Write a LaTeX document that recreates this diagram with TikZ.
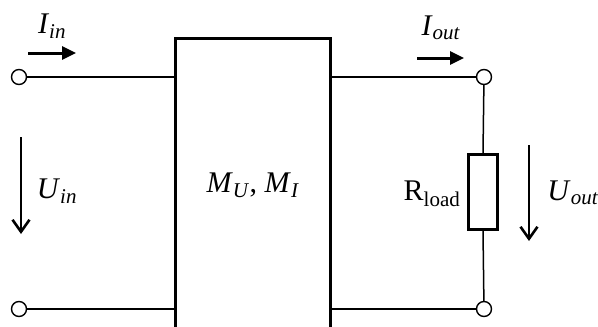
\documentclass[tikz,border=0pt]{standalone}
\usepackage{fontspec}
\setmainfont{Liberation Serif}
\usetikzlibrary{arrows.meta}
\tikzset{
  wire/.style={line width=1.5pt},
  term/.style={circle,draw,line width=1.4pt,minimum size=15pt,inner sep=0pt,fill=white},
  thickbox/.style={draw,line width=3pt},
  iarrow/.style={line width=3pt,-{Triangle[length=14pt,width=13pt]}},
  uarrow/.style={line width=2.6pt,-{Straight Barb[length=12pt,width=17pt,line width=2.6pt]}},
  lab/.style={font=\fontsize{30}{32}\selectfont,inner sep=0pt}
}
\newcommand{\vsub}[2]{\textit{#1}\textsubscript{\textit{#2}}}
\begin{document}
\begin{tikzpicture}[x=1pt,y=-1pt]
\useasboundingbox (0,0) rectangle (598,327);
\clip (0,0) rectangle (598,327);
% terminals
\node[term] (t1) at (19,77) {};
\node[term] (t2) at (19,309) {};
\node[term] (t3) at (484,77) {};
\node[term] (t4) at (484,309) {};
% two-port box
\coordinate (bxa) at (175,38);
\coordinate (bxb) at (330,335);
\draw[line width=3pt] (bxa) rectangle (bxb);
\coordinate (bl1) at (175,77);
\coordinate (bl2) at (175,309);
\coordinate (br1) at (330,77);
\coordinate (br2) at (330,309);
\draw[wire] (t1) -- (bl1);
\draw[wire] (t2) -- (bl2);
\draw[wire] (br1) -- (t3);
\draw[wire] (br2) -- (t4);
% load resistor
\node[thickbox,minimum width=29pt,minimum height=75pt,inner sep=0pt] (R) at (483,192) {};
\draw[wire] (t3) -- (R.north);
\draw[wire] (R.south) -- (t4);
% arrows
\coordinate (ia1) at (28,53); \coordinate (ia2) at (76,53);
\coordinate (oa1) at (417,58); \coordinate (oa2) at (464,58);
\coordinate (ua1) at (21,137); \coordinate (ua2) at (21,234);
\coordinate (va1) at (529,145); \coordinate (va2) at (529,241);
\draw[iarrow] (ia1) -- (ia2);
\draw[iarrow] (oa1) -- (oa2);
\draw[uarrow] (ua1) -- (ua2);
\draw[uarrow] (va1) -- (va2);
% labels
\node[lab] (Lin) at (52,26) {\vsub{I}{in}};
\node[lab] (Lout) at (441,28) {\vsub{I}{out}};
\node[lab] (Luin) at (57,191) {\vsub{U}{in}};
\node[lab] (Luout) at (573,193) {\vsub{U}{out}};
\node[lab] (LR) at (432,194) {R\textsubscript{load}};
\node[lab] (LM) at (253,185) {\vsub{M}{U}, \vsub{M}{I}};
\end{tikzpicture}
\end{document}
